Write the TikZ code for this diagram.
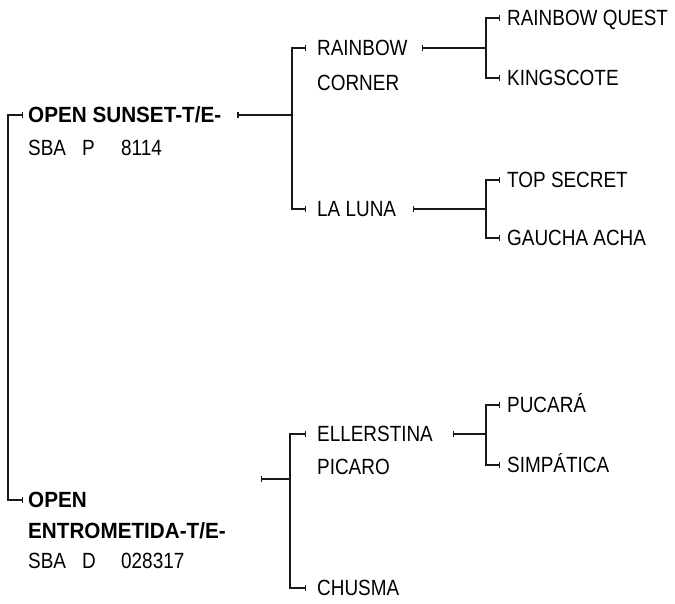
\documentclass[tikz,border=0pt]{standalone}
\usepackage{fontspec}
\setmainfont{Liberation Sans}[FakeStretch=0.86, BoldFeatures={FakeStretch=0.94}]
\usetikzlibrary{arrows.meta, positioning}
\definecolor{linecol}{RGB}{25,25,25}

\tikzset{
  item/.style={inner sep=0pt, anchor=west, text height=15.75pt, text depth=0pt,
               font=\fontsize{22}{26}\selectfont},
  head/.style={item, font=\fontsize{22}{26}\selectfont\bfseries},
  link/.style={draw=linecol, line width=1.2pt},
  tick/.style={link, -{Bar[width=6.5pt]}},
  stem/.style={link, {Bar[width=6.5pt]}-}
}

\begin{document}
\begin{tikzpicture}[x=1pt, y=-1pt]
  \useasboundingbox (0,0) rectangle (675,603);

  % sires
  \node[head] (sunset) at (28,115) {OPEN SUNSET-T/E-};
  \node[item, below right=16pt and 0pt of sunset.south west] (sunsetreg)
    {\makebox[54pt][l]{SBA}\makebox[39pt][l]{P}8114};
  \node[head] (entro) at (28,500) {OPEN};
  \node[head, below right=14pt and 0pt of entro.south west] (entroname) {ENTROMETIDA-T/E-};
  \node[item, below right=14pt and 0pt of entroname.south west] (entroreg)
    {\makebox[54pt][l]{SBA}\makebox[39pt][l]{D}028317};

  % second generation
  \node[item] (rainbow) at (317,48) {RAINBOW};
  \node[item, below right=18pt and 0pt of rainbow.south west] (corner) {CORNER};
  \node[item] (laluna) at (317,209) {LA LUNA};
  \node[item] (ellerstina) at (317,434) {ELLERSTINA};
  \node[item, below right=16pt and 0pt of ellerstina.south west] (picaro) {PICARO};
  \node[item] (chusma) at (317,588) {CHUSMA};

  % third generation
  \node[item] (rquest) at (507,18) {RAINBOW QUEST};
  \node[item] (kingscote) at (507,78) {KINGSCOTE};
  \node[item] (topsecret) at (507,180) {TOP SECRET};
  \node[item] (gaucha) at (507,238) {GAUCHA ACHA};
  \node[item] (pucara) at (507,405) {PUCARÁ};
  \node[item] (simpatica) at (507,465) {SIMPÁTICA};

  % brackets
  \coordinate (rootj) at (8,300);
  \draw[link, {Bar[width=6.5pt]}-{Bar[width=6.5pt]}, shorten <=5pt, shorten >=5pt]
    (sunset.west) -| (rootj) |- (entro.west);

  \coordinate (sunsetj) at (292,115);
  \draw[stem, shorten <=16pt] (sunset.east) -- (sunsetj);
  \draw[tick, shorten >=11pt] (sunsetj) |- (rainbow.west);
  \draw[tick, shorten >=11pt] (sunsetj) |- (laluna.west);

  \coordinate (entroout) at (261,479);
  \coordinate (entroj) at (290,479);
  \draw[stem] (entroout) -- (entroj);
  \draw[tick, shorten >=11pt] (entroj) |- (ellerstina.west);
  \draw[tick, shorten >=11pt] (entroj) |- (chusma.west);

  \coordinate (rainbowj) at (486,48);
  \draw[stem, shorten <=14pt] (rainbow.east) -- (rainbowj);
  \draw[tick, shorten >=7pt] (rainbowj) |- (rquest.west);
  \draw[tick, shorten >=7pt] (rainbowj) |- (kingscote.west);

  \coordinate (lalunaj) at (486,209);
  \draw[stem, shorten <=17pt] (laluna.east) -- (lalunaj);
  \draw[tick, shorten >=7pt] (lalunaj) |- (topsecret.west);
  \draw[tick, shorten >=7pt] (lalunaj) |- (gaucha.west);

  \coordinate (ellerstinaj) at (486,434);
  \draw[stem, shorten <=20pt] (ellerstina.east) -- (ellerstinaj);
  \draw[tick, shorten >=7pt] (ellerstinaj) |- (pucara.west);
  \draw[tick, shorten >=7pt] (ellerstinaj) |- (simpatica.west);
\end{tikzpicture}
\end{document}
